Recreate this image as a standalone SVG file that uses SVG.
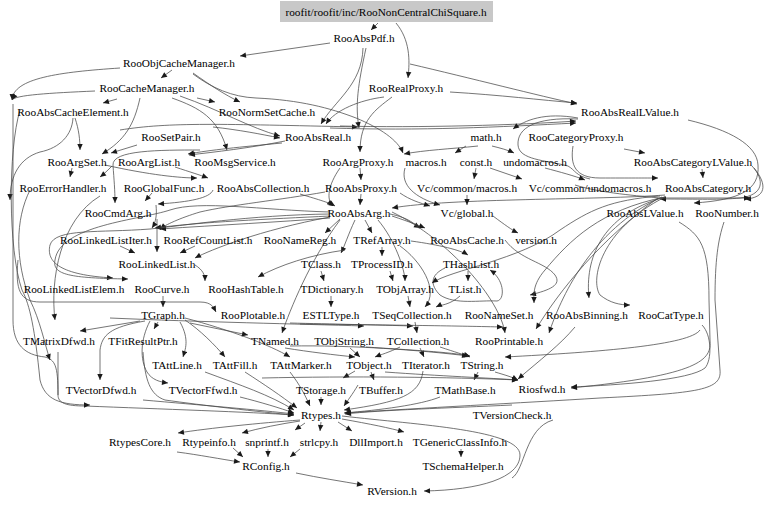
<svg xmlns="http://www.w3.org/2000/svg" width="768" height="505" viewBox="0 0 768 505">
<style>
text{font-family:"Liberation Serif","Times New Roman",serif;font-size:11.3px;text-anchor:middle;fill:#000}
#edges path{fill:none;stroke:#474747;stroke-width:0.75;marker-end:url(#a)}
#edges path.n{marker-end:none}
</style>
<defs>
<marker id="a" viewBox="0 0 10 10" refX="10" refY="5" markerWidth="7" markerHeight="6" orient="auto" markerUnits="userSpaceOnUse"><path d="M0,0.5 L10,5 L0,9.5 z" fill="#1a1a1a"/></marker>
</defs>
<rect width="768" height="505" fill="#fff"/>
<g id="edges">
<path d="M378,23 L371,30"/>
<path d="M396,23 C410,40 410,60 408,78"/>
<path d="M410,64 C470,78 540,96 577,104"/>
<path d="M450,92 C500,95 540,100 577,103"/>
<path d="M330,43 L240,56"/>
<path d="M363,48 C362,85 335,100 321,124"/>
<path d="M384,97 C360,100 335,110 326,124"/>
<path d="M366,48 C358,85 355,105 359,128"/>
<path d="M392,97 C375,110 360,120 360,152"/>
<path d="M120,68 C60,72 13,78 12,100"/>
<path d="M172,70 L161,78"/>
<path d="M193,73 C210,85 225,95 240,102"/>
<path d="M193,74 C212,88 232,97 256,98 C300,100 330,108 356,118 C380,128 398,140 403,153"/>
<path d="M117,99 L103,103"/>
<path d="M95,91 C50,93 15,95 12,100"/>
<path d="M197,98 L215,102"/>
<path d="M140,98 C134,125 125,140 102,154"/>
<path d="M172,98 C200,108 218,118 227,150"/>
<path d="M180,96 C220,110 250,128 280,136"/>
<path d="M213,127 C240,130 260,134 280,138"/>
<path d="M137,145 L111,153"/>
<path d="M282,143 C240,147 210,150 188,154"/>
<path d="M285,141 C250,148 215,152 189,155"/>
<path d="M75,118 C79,130 80,140 80,150"/>
<path d="M73,118 C72,135 60,148 40,152 C20,158 10,175 10,200"/>
<path d="M120,130 C170,122 220,124 358,127"/>
<path d="M340,126 C420,128 520,125 576,121"/>
<path d="M330,128 C420,131 500,127 576,123"/>
<path class="n" d="M578,119 C535,117 517,128 518,145 C519,160 545,160 568,166 C575,170 576,176 590,179"/>
<path d="M578,118 C545,112 525,120 513,129"/>
<path d="M478,146 C450,149 425,150 404,154"/>
<path d="M466,146 L455,153"/>
<path d="M492,146 C500,148 508,150 514,153"/>
<path d="M624,149 L645,153"/>
<path d="M702,169 L703,178"/>
<path d="M573,146 C570,165 575,178 600,178 C630,178 645,178 658,178"/>
<path d="M688,120 C730,130 757,145 758,165 C760,190 740,200 694,203"/>
<path d="M752,166 C765,180 764,195 740,198 C720,200 700,199 660,199"/>
<path d="M754,168 C768,185 766,198 745,199"/>
<path d="M360,168 L361,180"/>
<path d="M361,194 L360,205"/>
<path d="M340,168 C328,185 326,200 333,206"/>
<path d="M325,192 C280,200 230,205 200,212 C180,218 165,225 160,229"/>
<path d="M300,194 C320,200 330,203 335,206"/>
<path d="M105,165 C150,175 180,178 197,178"/>
<path d="M175,167 C190,172 200,175 208,178"/>
<path d="M72,168 L70,177"/>
<path d="M112,166 C108,170 104,174 100,177"/>
<path d="M152,193 L145,201"/>
<path d="M213,190 C210,198 190,202 158,204"/>
<path d="M200,150 C160,150 112,150 113,165 C114,180 115,190 115,203"/>
<path d="M157,219 L157,252"/>
<path d="M120,246 L135,253"/>
<path d="M195,246 L180,253"/>
<path d="M156,205 C157,215 156,222 152,228"/>
<path d="M330,218 C280,222 220,225 160,229"/>
<path d="M330,216 C270,219 200,222 155,228"/>
<path d="M340,219 L325,233"/>
<path d="M365,220 L372,233"/>
<path d="M390,214 C410,218 415,225 420,228"/>
<path d="M392,216 C410,222 420,226 425,228"/>
<path d="M340,220 C310,260 290,310 282,333"/>
<path d="M378,220 C395,240 405,270 405,281"/>
<path d="M392,212 C450,240 500,300 505,333"/>
<path d="M330,214 C250,215 180,226 150,229 C100,233 55,228 50,245 C46,262 60,275 113,278"/>
<path d="M330,212 C260,210 200,200 170,210 C140,220 60,225 55,260 C52,275 70,278 128,279"/>
<path d="M355,220 C348,235 345,245 341,253"/>
<path d="M345,250 C310,255 280,265 258,277"/>
<path d="M330,217 C260,230 210,250 195,258"/>
<path d="M382,247 L382,256"/>
<path d="M400,246 C420,260 440,290 425,307"/>
<path d="M411,241 C440,245 460,250 468,255"/>
<path d="M321,271 L324,281"/>
<path d="M390,271 L393,281"/>
<path d="M331,296 L331,307"/>
<path d="M408,296 L410,307"/>
<path d="M468,271 L468,281"/>
<path d="M460,296 C450,305 440,305 436,307"/>
<path d="M445,268 C430,275 430,285 440,295 C455,305 480,300 497,301 C505,300 505,280 490,270"/>
<path d="M505,240 C520,260 545,262 555,275 C562,285 550,290 530,295"/>
<path d="M415,322 L417,333"/>
<path d="M400,347 C390,352 380,355 375,357"/>
<path d="M420,348 L424,357"/>
<path d="M440,347 C455,352 465,355 470,357"/>
<path d="M350,348 L360,357"/>
<path d="M366,347 C410,350 450,352 470,356"/>
<path d="M285,348 C310,352 335,355 355,357"/>
<path d="M290,346 C350,345 420,350 468,356"/>
<path d="M355,371 L343,378"/>
<path d="M371,372 L374,380"/>
<path d="M478,372 L474,380"/>
<path d="M495,372 C505,375 512,377 518,380"/>
<path d="M385,372 C440,376 490,378 518,380"/>
<path d="M262,378 C350,376 450,377 518,380"/>
<path d="M321,397 L321,405"/>
<path d="M358,385 C352,395 348,400 344,406"/>
<path d="M423,371 C420,395 400,402 344,410"/>
<path d="M440,397 C420,405 380,410 344,413"/>
<path d="M512,405 C450,408 380,410 345,414"/>
<path d="M300,420 C260,423 210,428 178,433"/>
<path d="M300,421 C280,424 260,428 242,433"/>
<path d="M305,423 L295,430"/>
<path d="M321,422 L320,431"/>
<path d="M338,422 L352,431"/>
<path d="M342,419 C370,424 390,428 404,432"/>
<path d="M177,452 C200,455 220,459 240,462"/>
<path d="M233,448 L243,457"/>
<path d="M268,449 L268,457"/>
<path d="M300,449 L290,457"/>
<path d="M296,473 C320,478 340,481 363,485"/>
<path d="M461,449 L461,457"/>
<path d="M342,416 C420,425 520,430 520,455 C520,478 480,490 424,491"/>
<path class="n" d="M553,420 C525,428 525,470 512,478"/>
<path d="M205,372 C240,385 270,395 294,410"/>
<path d="M245,372 C265,385 280,395 297,408"/>
<path d="M290,372 C300,385 305,395 310,406"/>
<path d="M143,400 C200,405 260,410 294,414"/>
<path d="M240,397 C260,402 280,408 294,413"/>
<path d="M58,352 L58,395 C58,403 66,406 85,406 C160,409 250,412 294,415"/>
<path class="n" d="M13,104 L13,320 C13,345 25,355 45,357 C55,360 58,365 58,395"/>
<path d="M143,352 C145,380 150,395 165,400 C200,405 260,412 294,415"/>
<path d="M140,321 L80,331"/>
<path d="M158,322 L154,329"/>
<path d="M145,321 C110,327 102,335 100,350 L100,380"/>
<path d="M150,321 C140,340 140,360 147,372 C152,380 160,382 168,383"/>
<path d="M180,322 C190,340 185,350 183,357"/>
<path d="M185,320 C200,330 215,345 225,357"/>
<path d="M185,318 C230,330 270,345 290,357"/>
<path d="M190,323 L248,335"/>
<path d="M163,296 L163,307"/>
<path d="M18,260 C15,290 20,302 40,302 L200,302 C212,302 214,308 216,312"/>
<path d="M110,318 C200,322 300,324 364,326"/>
<path d="M290,323 C330,324 380,325 413,326"/>
<path d="M300,324 C400,325 460,326 503,327"/>
<path d="M195,265 C203,270 205,275 205,281"/>
<path d="M20,110 C8,150 8,250 22,290 C30,305 35,330 40,380 C45,400 60,405 90,405"/>
<path d="M30,190 C15,220 15,260 30,300 C40,320 45,345 50,360"/>
<path d="M100,196 C60,220 50,280 55,320"/>
<path d="M665,195 C600,200 450,198 392,208"/>
<path d="M660,196 C610,200 590,210 560,230 C520,260 450,270 432,283"/>
<path d="M665,197 C600,210 570,240 545,270 C532,285 534,295 534,303"/>
<path d="M665,197 C600,215 585,260 589,298"/>
<path d="M665,197 C600,230 590,280 600,295 C610,303 620,305 630,305"/>
<path d="M662,197 C590,230 560,300 549,333"/>
<path d="M658,198 C600,240 560,290 536,329"/>
<path d="M679,222 C700,235 709,245 709,300 L710,340 C712,360 700,375 571,388"/>
<path d="M724,222 C718,240 715,260 715,300 L720,370 C722,390 700,393 600,398 C520,403 420,408 345,413"/>
<path d="M702,325 C712,335 712,360 705,368 C690,380 620,385 571,387"/>
<path d="M575,327 C560,345 540,360 518,379"/>
<path d="M700,330 C690,345 600,352 505,357"/>
<path d="M476,168 L474,179"/>
<path d="M490,168 L522,179"/>
<path d="M405,168 C400,185 415,198 440,205"/>
<path d="M467,195 L467,205"/>
<path d="M545,168 C560,172 575,176 585,180"/>
<path d="M493,216 C505,225 512,230 518,233"/>
<path d="M400,193 C410,200 420,203 430,206"/>
<path d="M575,185 C600,193 640,196 660,198 L750,198"/>
</g>
<g id="n0"><rect x="280" y="1" width="213" height="21" fill="#c8c8c8"/><text x="386" y="16">roofit/roofit/inc/RooNonCentralChiSquare.h</text></g>
<g id="n1"><text x="364" y="42">RooAbsPdf.h</text></g>
<g id="n2"><text x="179" y="67">RooObjCacheManager.h</text></g>
<g id="n3"><text x="406" y="92">RooRealProxy.h</text></g>
<g id="n4"><text x="147" y="92">RooCacheManager.h</text></g>
<g id="n5"><text x="630" y="116">RooAbsRealLValue.h</text></g>
<g id="n6"><text x="73" y="116">RooAbsCacheElement.h</text></g>
<g id="n7"><text x="267" y="116">RooNormSetCache.h</text></g>
<g id="n8"><text x="171" y="141">RooSetPair.h</text></g>
<g id="n9"><text x="318" y="141">RooAbsReal.h</text></g>
<g id="n10"><text x="486" y="141">math.h</text></g>
<g id="n11"><text x="576" y="141">RooCategoryProxy.h</text></g>
<g id="n12"><text x="77" y="166">RooArgSet.h</text></g>
<g id="n13"><text x="149" y="166">RooArgList.h</text></g>
<g id="n14"><text x="235" y="166">RooMsgService.h</text></g>
<g id="n15"><text x="358" y="166">RooArgProxy.h</text></g>
<g id="n16"><text x="426" y="166">macros.h</text></g>
<g id="n17"><text x="476" y="166">const.h</text></g>
<g id="n18"><text x="535" y="166">undomacros.h</text></g>
<g id="n19"><text x="693" y="166">RooAbsCategoryLValue.h</text></g>
<g id="n20"><text x="63" y="192">RooErrorHandler.h</text></g>
<g id="n21"><text x="164" y="192">RooGlobalFunc.h</text></g>
<g id="n22"><text x="263" y="192">RooAbsCollection.h</text></g>
<g id="n23"><text x="361" y="192">RooAbsProxy.h</text></g>
<g id="n24"><text x="467" y="192">Vc/common/macros.h</text></g>
<g id="n25"><text x="590" y="192">Vc/common/undomacros.h</text></g>
<g id="n26"><text x="708" y="192">RooAbsCategory.h</text></g>
<g id="n27"><text x="118" y="217">RooCmdArg.h</text></g>
<g id="n28"><text x="359" y="217">RooAbsArg.h</text></g>
<g id="n29"><text x="467" y="217">Vc/global.h</text></g>
<g id="n30"><text x="645" y="217">RooAbsLValue.h</text></g>
<g id="n31"><text x="727" y="217">RooNumber.h</text></g>
<g id="n32"><text x="106" y="244">RooLinkedListIter.h</text></g>
<g id="n33"><text x="208" y="244">RooRefCountList.h</text></g>
<g id="n34"><text x="300" y="244">RooNameReg.h</text></g>
<g id="n35"><text x="382" y="244">TRefArray.h</text></g>
<g id="n36"><text x="467" y="244">RooAbsCache.h</text></g>
<g id="n37"><text x="536" y="244">version.h</text></g>
<g id="n38"><text x="157" y="268">RooLinkedList.h</text></g>
<g id="n39"><text x="321" y="268">TClass.h</text></g>
<g id="n40"><text x="382" y="268">TProcessID.h</text></g>
<g id="n41"><text x="471" y="268">THashList.h</text></g>
<g id="n42"><text x="74" y="293">RooLinkedListElem.h</text></g>
<g id="n43"><text x="162" y="293">RooCurve.h</text></g>
<g id="n44"><text x="246" y="293">RooHashTable.h</text></g>
<g id="n45"><text x="332" y="293">TDictionary.h</text></g>
<g id="n46"><text x="405" y="293">TObjArray.h</text></g>
<g id="n47"><text x="465" y="293">TList.h</text></g>
<g id="n48"><text x="163" y="319">TGraph.h</text></g>
<g id="n49"><text x="253" y="319">RooPlotable.h</text></g>
<g id="n50"><text x="331" y="319">ESTLType.h</text></g>
<g id="n51"><text x="412" y="319">TSeqCollection.h</text></g>
<g id="n52"><text x="499" y="319">RooNameSet.h</text></g>
<g id="n53"><text x="587" y="319">RooAbsBinning.h</text></g>
<g id="n54"><text x="671" y="319">RooCatType.h</text></g>
<g id="n55"><text x="59" y="345">TMatrixDfwd.h</text></g>
<g id="n56"><text x="143" y="345">TFitResultPtr.h</text></g>
<g id="n57"><text x="275" y="345">TNamed.h</text></g>
<g id="n58"><text x="344" y="345">TObjString.h</text></g>
<g id="n59"><text x="418" y="345">TCollection.h</text></g>
<g id="n60"><text x="509" y="345">RooPrintable.h</text></g>
<g id="n61"><text x="177" y="369">TAttLine.h</text></g>
<g id="n62"><text x="235" y="369">TAttFill.h</text></g>
<g id="n63"><text x="301" y="369">TAttMarker.h</text></g>
<g id="n64"><text x="369" y="369">TObject.h</text></g>
<g id="n65"><text x="426" y="369">TIterator.h</text></g>
<g id="n66"><text x="482" y="369">TString.h</text></g>
<g id="n67"><text x="542" y="393">Riosfwd.h</text></g>
<g id="n68"><text x="101" y="394">TVectorDfwd.h</text></g>
<g id="n69"><text x="203" y="394">TVectorFfwd.h</text></g>
<g id="n70"><text x="321" y="394">TStorage.h</text></g>
<g id="n71"><text x="381" y="394">TBuffer.h</text></g>
<g id="n72"><text x="465" y="394">TMathBase.h</text></g>
<g id="n73"><text x="321" y="419">Rtypes.h</text></g>
<g id="n74"><text x="512" y="419">TVersionCheck.h</text></g>
<g id="n75"><text x="140" y="446">RtypesCore.h</text></g>
<g id="n76"><text x="209" y="446">Rtypeinfo.h</text></g>
<g id="n77"><text x="267" y="446">snprintf.h</text></g>
<g id="n78"><text x="319" y="446">strlcpy.h</text></g>
<g id="n79"><text x="376" y="446">DllImport.h</text></g>
<g id="n80"><text x="460" y="446">TGenericClassInfo.h</text></g>
<g id="n81"><text x="266" y="470">RConfig.h</text></g>
<g id="n82"><text x="463" y="470">TSchemaHelper.h</text></g>
<g id="n83"><text x="392" y="495">RVersion.h</text></g>
</svg>
